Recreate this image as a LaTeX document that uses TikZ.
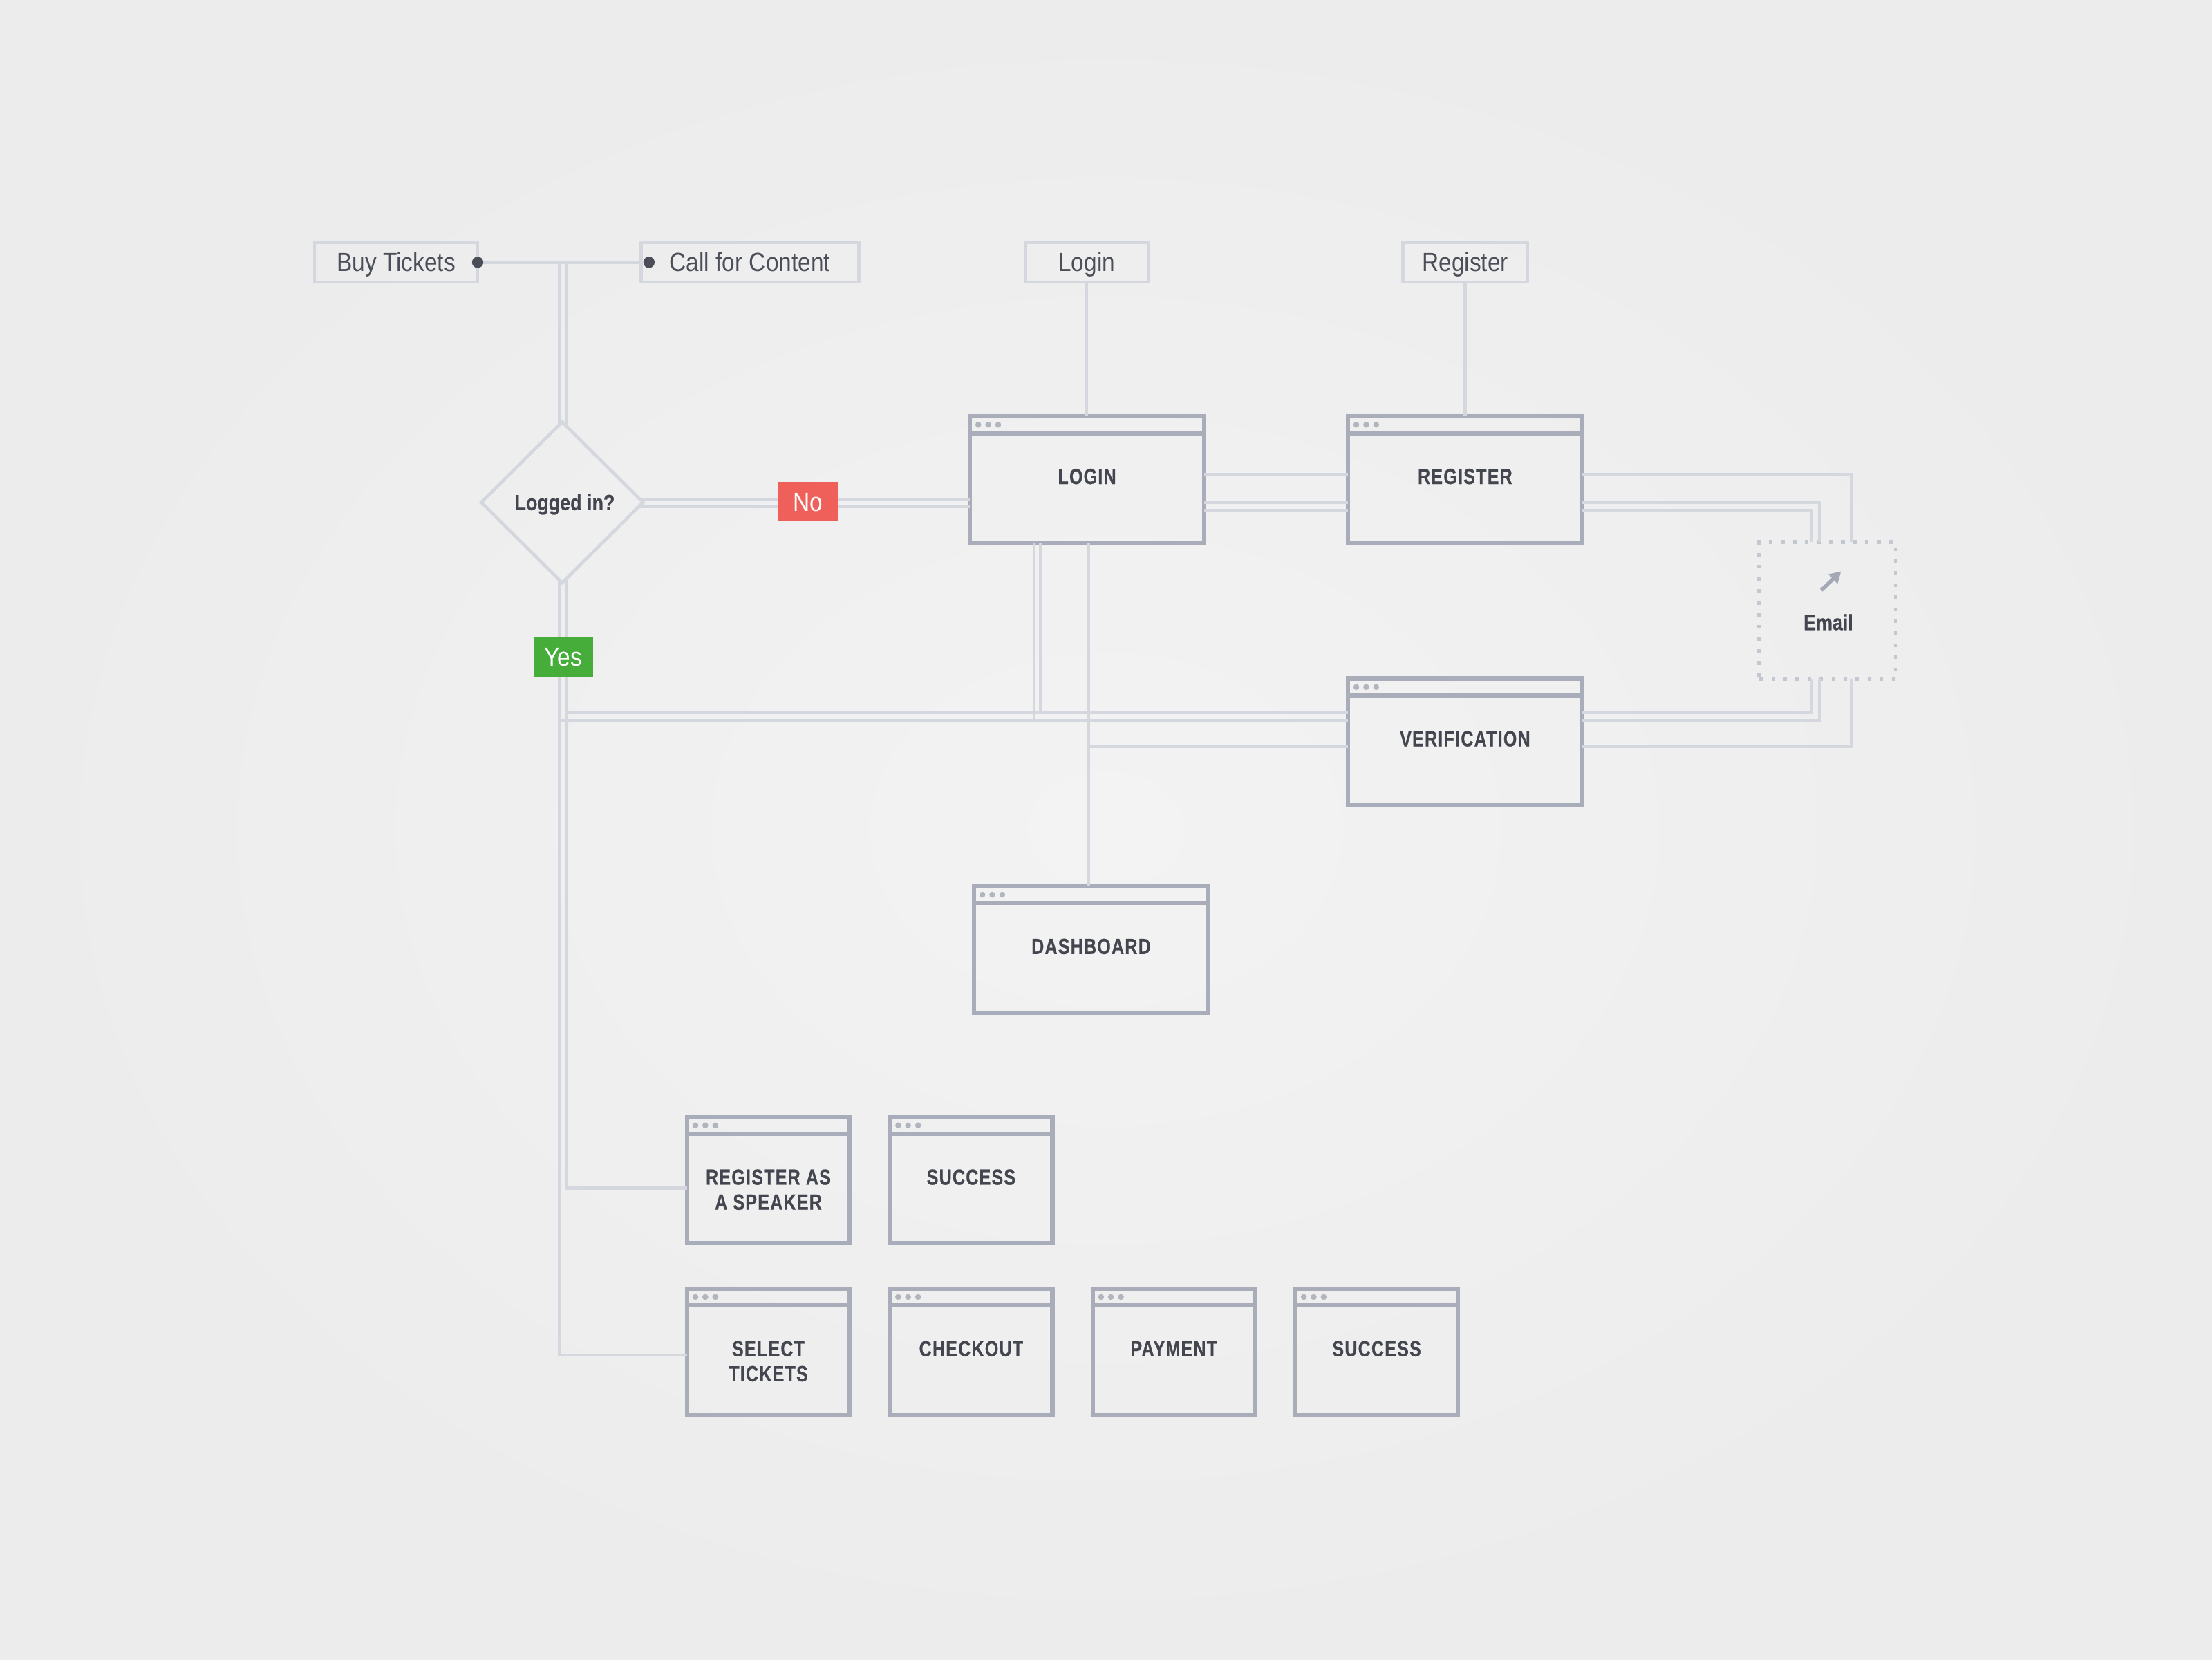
\documentclass[tikz,border=0pt]{standalone}
\usepackage{fontspec}
\usetikzlibrary{shapes.geometric,arrows.meta,calc}
\newfontfamily\regf[FakeStretch=0.88]{Liberation Sans}
\newfontfamily\boldf[FakeStretch=0.85,FakeBold=0.6]{Liberation Sans}
\newfontfamily\capsf[FakeStretch=0.79,LetterSpace=4,FakeBold=0.6]{Liberation Sans}
\definecolor{bgIn}{HTML}{F3F3F3}
\definecolor{bgOut}{HTML}{ECECEC}
\definecolor{lineC}{HTML}{D4D7DD}
\definecolor{winC}{HTML}{A9ADB9}
\definecolor{wdotC}{HTML}{B1B5BF}
\definecolor{txtC}{HTML}{4C4F59}
\definecolor{txtD}{HTML}{43464F}
\definecolor{noC}{HTML}{F0605A}
\definecolor{yesC}{HTML}{46AD3A}
\definecolor{pinC}{HTML}{4B4E58}
\definecolor{mailC}{HTML}{C3C7CF}
\definecolor{icoC}{HTML}{A3A8B4}
\def\pxu{0.20408mm}
\tikzset{
  conn/.style={draw=lineC, line width=2.1*\pxu},
  lblbox/.style={draw=lineC, line width=2.3*\pxu, minimum height=27.9*\pxu, inner sep=0pt, outer sep=0pt,
    text height=7.73pt, text depth=0pt, font=\regf\fontsize{10.8}{13}\selectfont, text=txtC},
  win/.style={draw=winC, line width=3*\pxu, inner sep=0pt, outer sep=0pt, minimum height=89.6*\pxu},
  bigwin/.style={win, minimum width=166*\pxu},
  smallwin/.style={win, minimum width=115.2*\pxu},
  wtxt/.style={font=\capsf\bfseries\fontsize{9}{10.3}\selectfont, text=txtD, inner sep=0pt, anchor=base},
  decision/.style={diamond, draw=lineC, line width=2.3*\pxu, minimum width=114.6*\pxu, minimum height=114*\pxu,
    inner sep=0pt, outer sep=0pt, text height=6.44pt, text depth=0pt,
    font=\boldf\bfseries\fontsize{9}{10.3}\selectfont, text=txtD},
  tag/.style={minimum width=42*\pxu, minimum height=28*\pxu, inner sep=0pt, text=white,
    font=\regf\fontsize{10.8}{13}\selectfont, text height=7.73pt, text depth=0pt},
  mailbox/.style={draw=mailC, line width=2.6*\pxu, dash pattern=on 0.53mm off 1.21mm,
    minimum width=96.8*\pxu, minimum height=97.1*\pxu, inner sep=0pt, outer sep=0pt},
  boldtxt/.style={font=\boldf\bfseries\fontsize{9}{10.3}\selectfont, text=txtD, inner sep=0pt,
    text height=6.44pt, text depth=0pt},
}
\newcommand\winbar[1]{%
  \draw[draw=winC, line width=3*\pxu] ([yshift=-12*\pxu]#1.north west) -- ([yshift=-12*\pxu]#1.north east);
  \foreach \dd in {5.9,12.9,20} {\fill[wdotC] ([xshift=\dd*\pxu, yshift=-6*\pxu]#1.north west) circle[radius=2.1*\pxu];}%
}
\newcommand\wlabel[2]{%
  \node[wtxt] (#1t) at ([yshift=-48*\pxu]#1.north) {\begin{tabular}[t]{@{}c@{}}#2\end{tabular}};%
}
\begin{document}
\begin{tikzpicture}[x=0.20408mm, y=-0.20408mm]
\useasboundingbox (0,0) rectangle (1568,1176);
\shade[inner color=bgIn, outer color=bgOut] (0,0) rectangle (1568,1176);

% lanes
\coordinate (xL) at (396.3,0);
\coordinate (xR) at (401.9,0);
\coordinate (xLg1) at (732.9,0);
\coordinate (xLg2) at (737.6,0);
\coordinate (xLS) at (771.7,0);
\coordinate (xE1) at (1284.1,0);
\coordinate (xE2) at (1289.5,0);
\coordinate (xE3) at (1312.5,0);
\coordinate (ySt) at (0,336.2);
\coordinate (yD1) at (0,354.1);
\coordinate (yD2) at (0,359.3);
\coordinate (yR1) at (0,356.2);
\coordinate (yR2) at (0,361.8);
\coordinate (yV1) at (0,504.7);
\coordinate (yV2) at (0,510.5);
\coordinate (yV3) at (0,529);
\coordinate (yS) at (0,842);
\coordinate (yT) at (0,960.4);

% top labels
\node[lblbox, minimum width=115.6*\pxu] (buy) at (280.8,185.9) {Buy Tickets};
\node[lblbox, minimum width=154.5*\pxu] (cfc) at (531.6,185.9) {Call for Content};
\node[lblbox, minimum width=87.5*\pxu] (loginlbl) at (770.35,185.9) {Login};
\node[lblbox, minimum width=88*\pxu] (reglbl) at (1038.6,185.9) {Register};

% decision
\node[decision] (logged) at (398.5,356) {\hspace*{0.73mm}Logged in?};

% windows
\node[bigwin] (login) at (770.55,339.8) {};
\node[bigwin] (register) at (1038.5,339.8) {};
\node[bigwin] (verif) at (1038.5,525.75) {};
\node[bigwin] (dash) at (773.45,672.9) {};
\node[smallwin] (speaker) at (544.65,836.4) {};
\node[smallwin] (success1) at (688.4,836.4) {};
\node[smallwin] (selt) at (544.65,958) {};
\node[smallwin] (checkout) at (688.4,958) {};
\node[smallwin] (payment) at (832.15,958) {};
\node[smallwin] (success2) at (975.9,958) {};
\node[mailbox] (email) at (1295.5,432.65) {};

% connectors
\draw[conn] (buy.east) -- (cfc.west);
\draw[conn] (xL |- buy.east) -- ($(xL |- logged.north)+(0,2)$);
\draw[conn] (xR |- buy.east) -- ($(xR |- logged.north)+(0,2.5)$);
\draw[conn] ($(logged.east |- yD1)+(-2,0)$) -- (login.west |- yD1);
\draw[conn] ($(logged.east |- yD2)+(-3,0)$) -- (login.west |- yD2);
\draw[conn] (loginlbl.south) -- (loginlbl.south |- login.north);
\draw[conn] (reglbl.south) -- (reglbl.south |- register.north);
\draw[conn] (login.east |- ySt) -- (register.west |- ySt);
\draw[conn] (login.east |- yR1) -- (register.west |- yR1);
\draw[conn] (login.east |- yR2) -- (register.west |- yR2);
\draw[conn] (register.east |- ySt) -| (xE3 |- email.north);
\draw[conn] (register.east |- yR1) -| (xE2 |- email.north);
\draw[conn] (register.east |- yR2) -| (xE1 |- email.north);
\draw[conn] (xE1 |- email.south) |- (verif.east |- yV1);
\draw[conn] (xE2 |- email.south) |- (verif.east |- yV2);
\draw[conn] (xE3 |- email.south) |- (verif.east |- yV3);
\draw[conn] (verif.west |- yV1) -- (xR |- yV1);
\draw[conn] (verif.west |- yV2) -- (xL |- yV2);
\draw[conn] (verif.west |- yV3) -- (xLS |- yV3);
\draw[conn] (xLg1 |- login.south) -- (xLg1 |- yV2);
\draw[conn] (xLg2 |- login.south) -- (xLg2 |- yV1);
\draw[conn] (xLS |- login.south) -- (xLS |- dash.north);
\draw[conn] ($(xL |- logged.south)+(0,-2)$) |- (selt.west |- yT);
\draw[conn] ($(xR |- logged.south)+(0,-3)$) |- (speaker.west |- yS);

% pins
\fill[pinC] (buy.east) circle[radius=4*\pxu];
\fill[pinC] ([xshift=5.7*\pxu]cfc.west) circle[radius=4*\pxu];

% window title bars and labels
\winbar{login} \winbar{register} \winbar{verif} \winbar{dash}
\winbar{speaker} \winbar{success1} \winbar{selt} \winbar{checkout} \winbar{payment} \winbar{success2}
\wlabel{login}{LOGIN}
\wlabel{register}{REGISTER}
\wlabel{verif}{VERIFICATION}
\wlabel{dash}{DASHBOARD}
\wlabel{speaker}{REGISTER AS\\A SPEAKER}
\wlabel{success1}{SUCCESS}
\wlabel{selt}{SELECT\\TICKETS}
\wlabel{checkout}{CHECKOUT}
\wlabel{payment}{PAYMENT}
\wlabel{success2}{SUCCESS}

% email
\draw[icoC, line width=2.6*\pxu, -{Triangle[length=1.6mm,width=1.8mm]}] (1291,418.3) -- (1305,405);
\node[boldtxt] (emailt) at (1296,441) {Email};

% tags
\node[tag, fill=noC] (no) at (572.9,355.45) {No};
\node[tag, fill=yesC] (yes) at (399.3,465.5) {Yes};
\end{tikzpicture}
\end{document}
